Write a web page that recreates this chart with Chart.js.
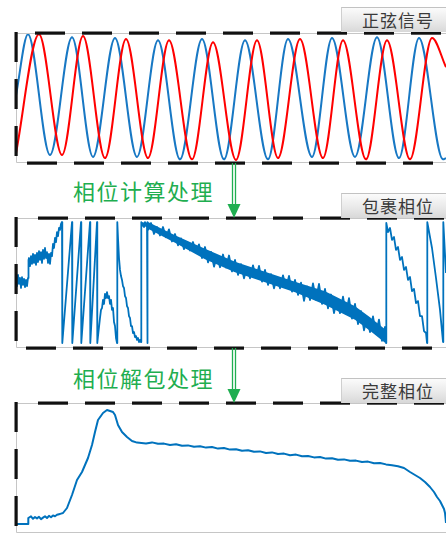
<!DOCTYPE html>
<html lang="zh">
<head>
<meta charset="utf-8">
<title>相位处理流程</title>
<script src="https://cdn.jsdelivr.net/npm/chart.js@4.4.1/dist/chart.umd.min.js"></script>
<style>
  html, body { margin: 0; padding: 0; background: #fff; }
  body { position: relative; width: 446px; height: 535px; overflow: hidden; }
  canvas { position: absolute; left: 0; }
  .tag {
    position: absolute; left: 341px; width: 110px; height: 25px;
    box-sizing: border-box; padding-left: 20px;
    border-top: 1px solid #c2c2c2; border-left: 1px solid #cfcfcf;
    background: linear-gradient(180deg, #fbfbfb 0%, #e9e9e9 55%, #d8d8d8 100%);
    font: 17px "Noto Sans CJK SC", sans-serif; line-height: 24px;
    letter-spacing: 1px; color: #3a3a3a;
  }
  .step {
    position: absolute; left: 73px;
    font: 22px "Noto Sans CJK SC", sans-serif; line-height: 26px;
    letter-spacing: 1.5px; color: #1fae50;
  }
  svg { position: absolute; left: 0; top: 0; }
</style>
</head>
<body>
<canvas id="sineChart" width="446" height="138" style="top:29px"></canvas>
<canvas id="wrappedChart" width="446" height="138" style="top:214px"></canvas>
<canvas id="unwrappedChart" width="446" height="138" style="top:399px"></canvas>

<div class="tag" id="tag0" style="top:7px"></div>
<div class="tag" id="tag1" style="top:193px"></div>
<div class="tag" id="tag2" style="top:378px"></div>
<div class="step" id="step0" style="top:177px"></div>
<div class="step" id="step1" style="top:364px"></div>

<svg width="446" height="535">
  <g stroke="#1fae50" stroke-width="1.3" fill="#1fae50">
    <line x1="232.5" y1="163" x2="232.5" y2="205" />
    <line x1="235.5" y1="163" x2="235.5" y2="205" />
    <polygon points="227.5,204 240.5,204 234,218" stroke="none" />
    <line x1="232.5" y1="348" x2="232.5" y2="390" />
    <line x1="235.5" y1="348" x2="235.5" y2="390" />
    <polygon points="227.5,389 240.5,389 234,403" stroke="none" />
  </g>
</svg>

<script>
/* Panel titles and the two processing steps */
const panelTitles = ['正弦信号', '包裹相位', '完整相位'];
const stepLabels = ['相位计算处理', '相位解包处理'];

/* Sine signals: [sample, amplitude] at each peak / trough */
const sineBlue = [
  [0, 0.03], [12, 1.03], [34, -0.95], [56, 0.98], [77, -0.98], [99, 0.97],
  [121, -0.98], [142, 0.93], [164, -1.02], [186, 0.95], [208, -1.02], [229, 0.93],
  [252, -1.02], [272, 0.95], [296, -0.98], [316, 0.97], [339, -0.98], [361, 0.98],
  [383, -1.0], [403, 0.97], [427, -1.02], [430, -1.0]
];
const sineRed = [
  [0, -0.92], [23, 1.03], [46, -0.95], [67, 1.0], [89, -1.0], [110, 0.95],
  [132, -1.0], [153, 0.93], [176, -1.02], [197, 0.9], [220, -1.03], [241, 0.93],
  [262, -1.0], [284, 0.95], [307, -1.0], [327, 0.93], [350, -1.02], [371, 0.93],
  [394, -1.02], [416, 0.97], [430, 0.49]
];

/* Wrapped phase in rad, [sample, phase] */
const wrappedPhase = [
  [0, 0.34], [1, -0.18], [2, 0.40], [3, -0.07], [4, 0.24], [5, -0.28], [6, 0.29],
  [7, -0.12], [8, 0.19], [9, -0.23], [10, 0.14], [11, -0.18], [12, 0.24],
  [12.5, 1.18], [13, 1.28], [14, 0.86], [15, 1.38], [16, 0.97], [17, 1.49], [18, 1.02],
  [19, 1.44], [20, 0.92], [21, 1.54], [22, 1.07], [23, 1.64], [24, 1.18], [25, 1.59],
  [26, 1.02], [27, 1.70], [28, 1.23], [29, 1.80], [30, 1.28], [31, 1.59], [32, 1.02],
  [33, 1.49], [34, 0.97], [35, 1.54], [36, 1.38], [37, 2.01], [38, 1.80], [39, 2.32],
  [40, 2.11], [41, 2.63], [42, 2.42], [43, 2.84], [44, 2.74], [45, 3.05], [46, 3.15],
  [46.3, -3.14], [56, 3.15], [56.3, -3.14], [65, 3.15], [65.3, -3.14], [74, 3.15],
  [74.3, -3.14], [81, 3.15], [81.3, -3.14],
  [82, -2.78], [84, -1.84], [85, -1.42], [86, -1.32], [87, -0.90], [88, -1.11],
  [89, -0.59], [90, -0.80], [91, -0.49], [92, -0.80], [93, -0.70], [94, -1.11],
  [95, -0.90], [96, -1.42], [97, -1.32], [98, -2.05], [99, -2.26], [100, -2.88],
  [101, -3.14], [101.3, 3.15],
  [102, 2.32], [103, 1.28], [104, 0.66], [105, 0.34], [106, 0.14], [107, -0.18],
  [108, -0.28], [109, -0.70], [110, -0.80], [111, -1.22], [112, -1.32], [113, -1.74],
  [114, -1.84], [115, -2.26], [116, -2.26], [117, -2.62], [118, -2.57], [119, -2.83],
  [120, -2.78], [121, -2.98], [122, -2.88], [123, -3.09], [124, -2.98], [125, -3.09],
  [125.3, 3.15], [126, 2.94], [127, 3.10], [128, 2.89], [129, 3.15], [130, 2.94],
  [131, 3.10], [131.2, -3.14], [131.8, 3.15],
  [132, 2.74], [135, 3.10], [138, 2.53], [141, 2.89], [144, 2.45], [147, 2.89],
  [150, 2.36], [153, 2.77], [156, 2.14], [159, 2.53], [162, 1.94], [165, 2.30],
  [168, 1.74], [171, 2.11], [174, 1.67], [177, 2.11], [180, 1.58], [183, 1.99],
  [186, 1.28], [189, 1.85], [192, 1.05], [195, 1.60], [198, 0.83], [201, 1.38],
  [204, 0.80], [207, 1.46], [210, 0.78], [213, 1.41], [216, 0.58], [219, 1.18],
  [222, 0.40], [225, 0.96], [228, 0.22], [231, 0.79], [234, 0.22], [237, 0.90],
  [240, 0.23], [243, 0.87], [246, 0.05], [249, 0.66], [252, -0.12], [255, 0.44],
  [258, -0.30], [261, 0.27], [264, -0.30], [267, 0.38], [270, -0.29], [273, 0.35],
  [276, -0.47], [279, 0.14], [282, -0.64], [285, 0.00], [288, -0.95], [291, -0.20],
  [294, -0.91], [297, -0.04], [300, -0.89], [303, -0.07], [306, -1.11], [309, -0.33],
  [312, -1.34], [315, -0.62], [318, -1.58], [321, -0.86], [324, -1.59], [327, -0.73],
  [330, -1.61], [333, -0.81], [336, -1.87], [339, -1.11], [342, -2.16], [345, -1.48],
  [348, -2.48], [351, -1.80], [354, -2.57], [357, -1.76], [360, -2.68], [363, -1.92],
  [366, -3.03], [369, -2.31], [370, -3.14], [370.3, 3.10],
  [372, 2.63], [374, 2.84], [376, 2.22], [378, 2.37], [380, 1.70], [382, 1.85],
  [384, 1.18], [386, 1.33], [388, 0.66], [390, 0.81], [392, 0.14], [394, 0.29],
  [396, -0.44], [398, -0.33], [400, -1.06], [402, -0.96], [404, -1.74], [406, -1.74],
  [408, -2.52], [410, -2.62], [411, -3.14], [411.3, 3.15],
  [416, 1.80], [420, 0.24], [424, -1.42], [427, -3.09], [427.3, 3.15], [430, 0.5]
];

/* Dense noise core of the long wrapped-phase ramp: upper / lower edge, rad */
const bandUpper = [
  [132, 3.15], [159, 2.46], [189, 1.76], [219, 1.08], [249, 0.56],
  [279, 0.05], [309, -0.45], [339, -1.23], [354, -1.80], [369, -2.43]
];
const bandLower = [
  [132, 2.80], [159, 2.07], [189, 1.21], [219, 0.54], [249, 0.02],
  [279, -0.50], [309, -1.15], [339, -1.93], [354, -2.50], [369, -3.13]
];

/* Unwrapped (complete) phase in rad, [sample, phase] */
const unwrappedPhase = [
  [0, 0], [12, 0], [12.3, 3.0], [15, 3.8], [17, 2.6], [19, 3.5], [21, 2.8], [23, 3.6],
  [25, 2.4], [27, 3.2], [29, 3.9], [31, 3.0], [33, 4.1], [35, 3.4], [37, 4.3], [39, 3.9],
  [41, 4.6], [43, 4.9], [45, 5.2], [47, 5.5],
  [51, 8.0], [56, 14.5], [61, 22], [66, 26], [72, 33], [76, 39.5], [79, 46], [82, 52],
  [87, 55.5], [91, 57], [94, 56.5], [97, 56], [99, 54.5], [102, 49.5], [106, 46],
  [111, 43.5], [116, 41.5], [121, 40.7],
  [130, 40.3], [136, 40.8], [142, 40.1], [148, 40.2], [154, 39.5], [160, 39.9],
  [166, 39.1], [172, 39.3], [178, 38.6], [184, 38.9], [190, 38.2], [196, 38.5],
  [202, 37.7], [208, 38.0], [214, 37.2], [220, 37.4], [226, 36.6], [232, 36.9],
  [238, 36.1], [244, 36.3], [250, 35.5], [256, 35.8], [262, 35.0], [268, 35.2],
  [274, 34.4], [280, 34.7], [286, 33.9], [292, 34.0], [298, 33.3], [304, 33.5],
  [310, 32.7], [316, 32.9], [322, 32.1], [328, 32.3], [334, 31.6], [340, 31.7],
  [346, 31.0], [352, 31.2], [358, 30.4], [364, 30.5], [370, 29.8], [376, 29.4],
  [382, 28.9], [388, 28.0], [394, 26.0], [399, 24.5], [404, 23.0], [409, 21.0],
  [414, 18.5], [418, 16], [421, 13.5], [424, 11.5], [426, 9.5], [428, 7.5],
  [429, 5.5], [430, 0.5]
];

const BLUE = '#0072BD';
const RED = '#FF0000';

document.addEventListener('DOMContentLoaded', function () {
  // texts
  panelTitles.forEach((t, i) => { document.getElementById('tag' + i).textContent = t; });
  stepLabels.forEach((t, i) => { document.getElementById('step' + i).textContent = t; });

  /* Dashed black frame on top of a thin grey one, open on the right side */
  const dashedFrame = {
    id: 'dashedFrame',
    afterDatasetsDraw(chart, args, opts) {
      const { ctx, chartArea: a } = chart;
      const right = chart.width;
      ctx.save();
      ctx.strokeStyle = '#c6c6c6';
      ctx.lineWidth = 1;
      ctx.beginPath();
      ctx.moveTo(right, a.top + 0.5);
      ctx.lineTo(a.left + 0.5, a.top + 0.5);
      ctx.lineTo(a.left + 0.5, a.bottom - 0.5);
      ctx.lineTo(right, a.bottom - 0.5);
      ctx.stroke();

      ctx.fillStyle = '#111';
      for (let x = a.left + opts.topStart; x < right; x += 47) {
        ctx.fillRect(x, a.top - 1.5, 30, 3.2);
      }
      if (opts.bottom) {
        for (let x = a.left + opts.bottomStart; x < right; x += 47) {
          ctx.fillRect(x, a.bottom - 1.5, 30, 3.2);
        }
      }
      for (let y = a.top - 1; y < a.bottom - 6; y += 47) {
        ctx.fillRect(a.left - 1.5, y, 3.2, Math.min(30, a.bottom - y));
      }
      ctx.restore();
    }
  };

  const toPoints = pairs => pairs.map(([x, y]) => ({ x: x, y: y }));

  function makePanel(id, datasets, yMin, yMax, frame) {
    return new Chart(document.getElementById(id), {
      type: 'line',
      data: { datasets: datasets },
      options: {
        responsive: false,
        animation: false,
        events: [],
        layout: { padding: { left: 16, right: 0, top: 4, bottom: 4 } },
        elements: { point: { radius: 0 }, line: { borderJoinStyle: 'round' } },
        plugins: { legend: { display: false }, tooltip: { enabled: false }, dashedFrame: frame },
        scales: {
          x: { type: 'linear', min: 0, max: 430, display: false },
          y: { min: yMin, max: yMax, display: false }
        }
      },
      plugins: [dashedFrame]
    });
  }

  makePanel('sineChart', [
    { data: toPoints(sineRed), borderColor: RED, borderWidth: 2, cubicInterpolationMode: 'monotone' },
    { data: toPoints(sineBlue), borderColor: '#1878C4', borderWidth: 2, cubicInterpolationMode: 'monotone' }
  ], -1.08, 1.05, { topStart: 19, bottomStart: 11, bottom: true });

  makePanel('wrappedChart', [
    { data: toPoints(bandUpper), borderWidth: 0, fill: false },
    { data: toPoints(bandLower), borderWidth: 0, fill: '-1', backgroundColor: BLUE },
    { data: toPoints(wrappedPhase), borderColor: BLUE, borderWidth: 1.8, tension: 0 }
  ], -3.4, 3.36, { topStart: 22, bottomStart: 10, bottom: true });

  makePanel('unwrappedChart', [
    { data: toPoints(unwrappedPhase), borderColor: BLUE, borderWidth: 2, tension: 0 }
  ], -4.5, 60.5, { topStart: 22, bottomStart: 10, bottom: false });
});
</script>
</body>
</html>
